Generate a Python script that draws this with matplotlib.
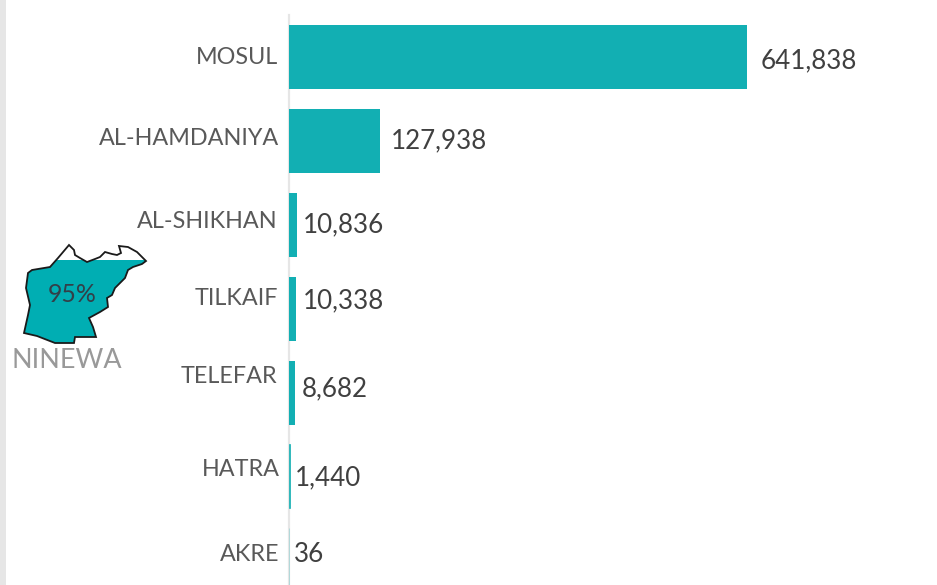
import matplotlib
matplotlib.use('Agg')
import matplotlib.pyplot as plt
from matplotlib.patches import Polygon, Rectangle

plt.rcParams['font.family'] = ['Lato', 'DejaVu Sans']

districts = ['MOSUL', 'AL-HAMDANIYA', 'AL-SHIKHAN', 'TILKAIF', 'TELEFAR', 'HATRA', 'AKRE']
values = [641838, 127938, 10836, 10338, 8682, 1440, 36]
value_labels = ['641,838', '127,938', '10,836', '10,338', '8,682', '1,440', '36']
region = 'NINEWA'
region_share = '95%'

# pixel tweaks, the labels in the original don't sit quite on the bar centres
name_dx = [-11, -10, -11, -11, -12, -9, -10]
name_dy = [0, -3, -4, -10, -16, -7, -6]
value_dx = [14, 11, 6, 6, 7, 5, 5]
value_dy = [3, 0, 0, -8, -4, 1, -6]

# district outline, in pixels
outline_x = [69, 74, 75, 80, 87, 95, 100, 105, 112, 117, 121, 119, 128, 137, 146, 142, 133, 128, 125,
             115, 112, 107, 108, 100, 89, 93, 96, 75, 74, 55, 37, 24, 28, 30, 26, 28, 32, 50, 58]
outline_y = [245, 250, 255, 258, 262, 259, 257, 252, 254, 255, 253, 246, 247, 252, 261, 264, 267, 270, 278,
             288, 295, 298, 307, 312, 318, 327, 337, 337, 343, 343, 336, 333, 315, 305, 288, 273, 270, 267, 258]

teal = '#12afb3'
px = 1 / 100

fig = plt.figure(figsize=(937 * px, 585 * px), dpi=100)
ax = fig.add_axes([0, 0, 1, 1])
scale = 458 / values[0]
ax.set_xlim(-289 / scale, (937 - 289) / scale)
ax.set_ylim((585 - 57.5) / 83.8, -57.5 / 83.8)
ax.axis('off')

ypos = range(len(values))
ax.plot([0, 0], [(15 - 57.5) / 83.8, (585 - 57.5) / 83.8], color='#e6e6e6', lw=1.6, zorder=1, clip_on=False)
bars = ax.barh(ypos, values, height=64 / 83.8, color=teal, lw=0, zorder=2)
bars[-2].set_edgecolor(teal)
bars[-2].set_linewidth(0.5)
bars[-1].set_edgecolor(teal + '40')
bars[-1].set_linewidth(0.7)

for i, v in enumerate(values):
    ax.annotate(districts[i], xy=(0, i), xytext=(name_dx[i] * 0.72, -name_dy[i] * 0.72), textcoords='offset points',
                ha='right', va='center', fontsize=16.8, color='#595959')
    ax.annotate(value_labels[i], xy=(v, i), xytext=(value_dx[i] * 0.72, -value_dy[i] * 0.72),
                textcoords='offset points', ha='left', va='center', fontsize=18.7, color='#404040')

# overlay in pixel coordinates for the map and the left strip
ov = fig.add_axes([0, 0, 1, 1])
ov.set_xlim(0, 937)
ov.set_ylim(585, 0)
ov.axis('off')
ov.patch.set_alpha(0)
ov.add_patch(Rectangle((0, 0), 6, 585, color='#e6e6e6', lw=0))

pts = list(zip(outline_x, outline_y))
fill = Polygon(pts, closed=True, facecolor='#00aeb3', edgecolor='none', zorder=2)
ov.add_patch(fill)
fill.set_clip_path(Rectangle((0, 260), 200, 100, transform=ov.transData))
ov.add_patch(Polygon(pts, closed=True, facecolor='none', edgecolor='#1a1a1a', lw=1.3, zorder=3))
ov.text(72, 295, region_share, ha='center', va='center', fontsize=17.9, color='#333f48', zorder=4)
ov.text(67, 361, region, ha='center', va='center', fontsize=19.4, color='#999999')

fig.savefig('out.png', dpi=100)
